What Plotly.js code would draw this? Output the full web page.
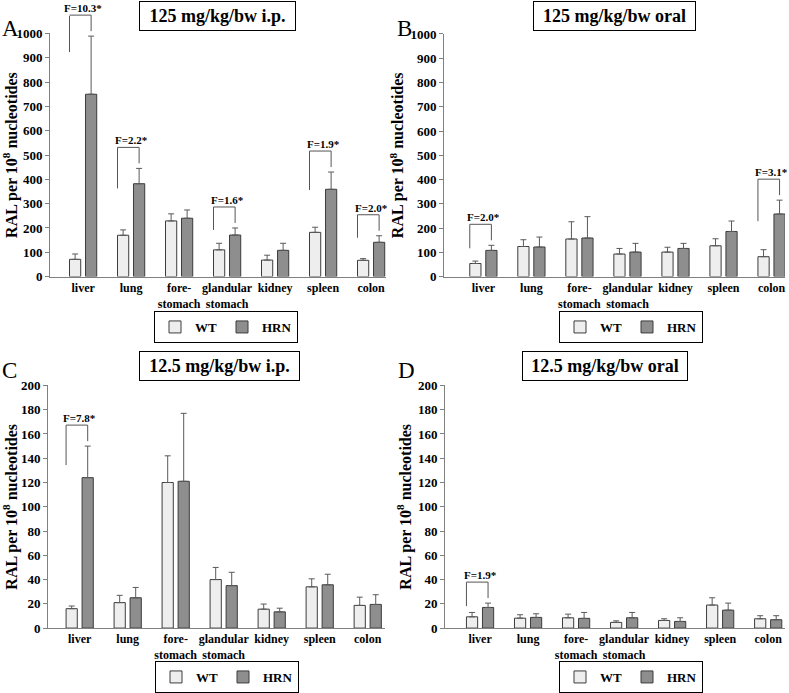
<!DOCTYPE html>
<html>
<head>
<meta charset="utf-8">
<script src="https://cdn.plot.ly/plotly-3.0.1.min.js"></script>
<style>
  body { margin: 0; background: #fff; }
  #chart { width: 789px; height: 693px; }
</style>
</head>
<body>
<div id="chart"></div>
<script>
// organs on the x axis (same for all four panels)
var organs = ["liver", "lung", "fore-<br>stomach", "glandular<br>stomach", "kidney", "spleen", "colon"];
var groups = ["WT", "HRN"];

// A: 125 mg/kg/bw i.p.
var wtA = [71, 170, 229, 110, 68, 182, 67];
var wtErrA = [22, 22, 29, 27, 20, 21, 7];
var hrnA = [750, 382, 240, 171, 108, 359, 141];
var hrnErrA = [239, 63, 34, 29, 29, 71, 27];

// B: 125 mg/kg/bw oral
var wtB = [54, 124, 155, 93, 101, 127, 82];
var wtErrB = [10, 28, 71, 23, 20, 29, 29];
var hrnB = [108, 122, 159, 101, 116, 186, 258];
var hrnErrB = [21, 41, 88, 36, 21, 43, 57];

// C: 12.5 mg/kg/bw i.p.
var wtC = [16, 21, 120, 40, 15.6, 34, 18.7];
var wtErrC = [2.2, 6, 22, 10, 4.2, 6.6, 6.8];
var hrnC = [124, 25, 121, 35, 13.4, 35.7, 19.5];
var hrnErrC = [26, 8.5, 56, 11, 3, 8.7, 8];

// D: 12.5 mg/kg/bw oral
var wtD = [9.3, 8.2, 8.5, 4.7, 6.3, 19, 7.7];
var wtErrD = [3.6, 2.8, 3, 1.3, 1.4, 6, 2.5];
var hrnD = [17, 8.8, 8, 8.5, 5.5, 14.8, 6.9];
var hrnErrD = [3.6, 3, 4.9, 4.4, 3, 5.8, 3.3];

// significant fold differences (HRN vs WT)
var sigPanel = ["A", "A", "A", "A", "A", "B", "B", "C", "D"];
var sigOrgan = [0, 1, 3, 5, 6, 0, 6, 0, 0];
var sigText = ["F=10.3*", "F=2.2*", "F=1.6*", "F=1.9*", "F=2.0*", "F=2.0*", "F=3.1*", "F=7.8*", "F=1.9*"];

var titles = ["125 mg/kg/bw i.p.", "125 mg/kg/bw oral", "12.5 mg/kg/bw i.p.", "12.5 mg/kg/bw oral"];
var letters = ["A", "B", "C", "D"];

// ---- layout helpers (pixels -> paper)
var W = 789, H = 693;
function fx(p) { return p / W; }
function fy(p) { return 1 - p / H; }

var FONT = "Liberation Serif, Times New Roman, serif";
var wtColor = "#eeeeee", hrnColor = "#8e8e8e";
var bargap = 0.333, bargroupgap = 0.3;

var panels = [
  {id: "", wt: wtA, wtErr: wtErrA, hrn: hrnA, hrnErr: hrnErrA, ymax: 1000, dtick: 100,
   px: [50, 386], py: [33.5, 277], xr: [-0.69, 6.31], legend: "legend", titleW: 149, titleX: 217, titleY: 16, legX: 226, legY: 311, letX: 0, letY: 29},
  {id: "2", wt: wtB, wtErr: wtErrB, hrn: hrnB, hrnErr: hrnErrB, ymax: 1000, dtick: 100,
   px: [444, 785], py: [34, 277], xr: [-0.82, 6.28], legend: "legend2", titleW: 155, titleX: 614, titleY: 16, legX: 631, legY: 311, letX: 395, letY: 29},
  {id: "3", wt: wtC, wtErr: wtErrC, hrn: hrnC, hrnErr: hrnErrC, ymax: 200, dtick: 20,
   px: [48, 385], py: [386, 629], xr: [-0.66, 6.36], legend: "legend3", titleW: 153, titleX: 219, titleY: 367, legX: 227, legY: 662, letX: 0, letY: 371},
  {id: "4", wt: wtD, wtErr: wtErrD, hrn: hrnD, hrnErr: hrnErrD, ymax: 200, dtick: 20,
   px: [445, 785], py: [386, 629], xr: [-0.73, 6.35], legend: "legend4", titleW: 158, titleX: 605, titleY: 367, legX: 631, legY: 662, letX: 396, letY: 371}
];

function barTrace(name, y, err, color, p) {
  return {
    type: "bar", name: name, x: organs, y: y,
    xaxis: "x" + p.id, yaxis: "y" + p.id, legend: p.legend,
    marker: {color: color, line: {color: "#3c3c3c", width: 1}},
    error_y: {type: "data", symmetric: false, array: err,
              arrayminus: err.map(function () { return 0; }),
              color: "#5a5a5a", thickness: 1, width: 3},
    hoverinfo: "x+y"
  };
}

var data = [];
var layout = {
  width: W, height: H,
  margin: {l: 0, r: 0, t: 0, b: 0},
  paper_bgcolor: "#fff", plot_bgcolor: "#fff",
  font: {family: FONT, color: "#000", weight: "bold"},
  barmode: "group", bargap: bargap, bargroupgap: bargroupgap,
  annotations: [], shapes: []
};

panels.forEach(function (p, k) {
  data.push(barTrace(groups[0], p.wt, p.wtErr, wtColor, p));
  data.push(barTrace(groups[1], p.hrn, p.hrnErr, hrnColor, p));

  layout["xaxis" + p.id] = {
    domain: [fx(p.px[0]), fx(p.px[1])], anchor: "y" + p.id,
    type: "category", range: p.xr, tickangle: 0,
    showline: true, linecolor: "#808080", linewidth: 1,
    ticks: "", showgrid: false, zeroline: false,
    tickfont: {family: FONT, size: 12, color: "#000", weight: "bold"}
  };
  layout["yaxis" + p.id] = {
    domain: [fy(p.py[1]), fy(p.py[0])], anchor: "x" + p.id,
    range: [0, p.ymax], dtick: p.dtick,
    showline: true, linecolor: "#808080", linewidth: 1,
    ticks: "outside", ticklen: 4, tickcolor: "#808080",
    showgrid: false, zeroline: false,
    tickfont: {family: FONT, size: 13, color: "#000", weight: "bold"},
    title: {text: "RAL per 10<sup>8</sup> nucleotides", standoff: 2,
            font: {family: FONT, size: 16, color: "#000", weight: "bold"}}
  };
  layout[p.legend] = {
    x: fx(p.legX), y: fy(p.legY), xanchor: "center", yanchor: "top",
    orientation: "h", bordercolor: "#000", borderwidth: 1, bgcolor: "#fff",
    font: {family: FONT, size: 13, color: "#000", weight: "bold"},
    traceorder: "normal"
  };

  // boxed panel title
  layout.annotations.push({
    xref: "paper", yref: "paper", x: fx(p.titleX), y: fy(p.titleY),
    xanchor: "center", yanchor: "middle", showarrow: false,
    text: titles[k], width: p.titleW, height: 22, borderpad: 3,
    bordercolor: "#000", borderwidth: 1, bgcolor: "#fff",
    font: {family: FONT, size: 18, color: "#000", weight: "bold"}
  });
  // panel letter
  layout.annotations.push({
    xref: "paper", yref: "paper", x: fx(p.letX), y: fy(p.letY),
    xanchor: "left", yanchor: "middle", showarrow: false,
    text: letters[k],
    font: {family: FONT, size: 23, color: "#000", weight: "normal"}
  });
});

// significance brackets drawn from the HRN error bar tops
var half = (1 - bargap) / 4;
var barW = (1 - bargap) / 2 * (1 - bargroupgap);
var footDrop = [37, 41, 23, 39, 23, 24, 42, 40, 24];
function seg(p, x, y, ax, ay, shift) {
  return {
    xref: "x" + p.id, yref: "y" + p.id, x: x, y: y,
    axref: ay === null ? "x" + p.id : "pixel", ax: ay === null ? ax : 0,
    ayref: "pixel", ay: ay === null ? 0 : ay, yshift: shift,
    showarrow: true, arrowhead: 0, arrowwidth: 1, arrowcolor: "#555",
    standoff: 0, startstandoff: 0, text: "", borderpad: 0, borderwidth: 0,
    font: {size: 1}
  };
}
sigOrgan.forEach(function (i, n) {
  var p = panels[letters.indexOf(sigPanel[n])];
  var top = p.hrn[i] + p.hrnErr[i];
  var xl = i - half - barW / 2;
  var xr = i + half;
  var rise = 21;
  layout.annotations.push(seg(p, xl, top, xr, null, rise));
  layout.annotations.push(seg(p, xr, top, 0, -(rise - 5), 5));
  layout.annotations.push(seg(p, xl, top, 0, -footDrop[n], rise - footDrop[n]));
  layout.annotations.push({
    xref: "x" + p.id, yref: "y" + p.id, x: i, y: top, yshift: rise - 1,
    xanchor: "center", yanchor: "bottom", showarrow: false,
    text: sigText[n],
    font: {family: FONT, size: 11, color: "#000", weight: "bold"}
  });
});

Plotly.newPlot("chart", data, layout, {displayModeBar: false, staticPlot: true});
</script>
</body>
</html>
